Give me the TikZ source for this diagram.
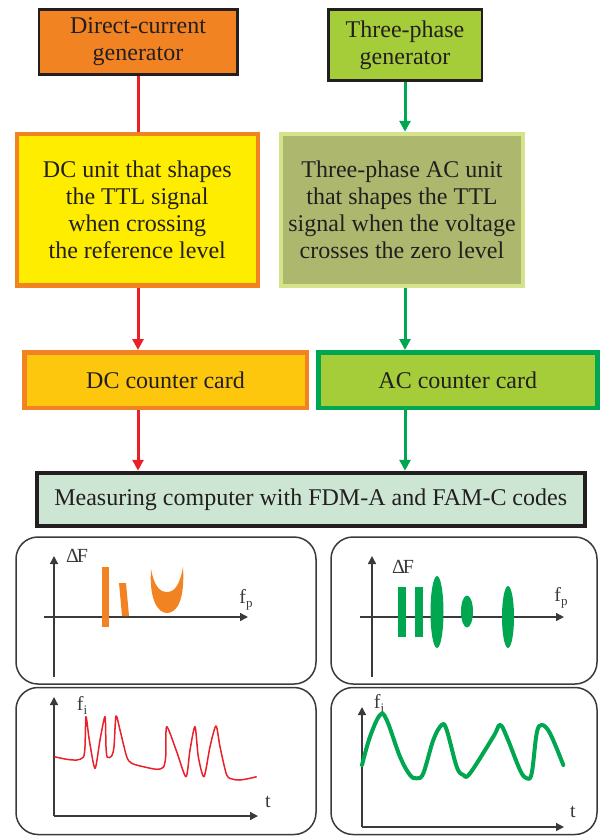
\documentclass[tikz,border=0pt]{standalone}
\usepackage{fontspec}
\setmainfont{Liberation Serif}
\usetikzlibrary{arrows.meta}

\definecolor{dcorange}{HTML}{F28322}
\definecolor{acgreen}{HTML}{A5CD39}
\definecolor{wirered}{HTML}{E8202A}
\definecolor{wiregreen}{HTML}{00A650}
\definecolor{dcyellow}{HTML}{FFED00}
\definecolor{oliveunit}{HTML}{ADB86E}
\definecolor{palegreen}{HTML}{D5E38A}
\definecolor{cardgold}{HTML}{FDC70E}
\definecolor{mint}{HTML}{CDE6D4}
\definecolor{ink}{HTML}{231F20}
\definecolor{framegray}{HTML}{3A3A3A}

\tikzset{
  box/.style={draw, rectangle, align=center, inner sep=0pt, text=ink,
              font=\fontsize{24}{27}\selectfont},
  genbox/.style={box, line width=2.5pt, draw=ink},
  heavybox/.style={box, line width=4.5pt},
  redwire/.style={draw=wirered, line width=3pt},
  greenwire/.style={draw=wiregreen, line width=3pt},
  tip/.style={-{Triangle[length=11pt,width=11pt]}},
  panel/.style={draw=framegray, line width=1.5pt, rounded corners=22pt,
                rectangle, inner sep=0pt, minimum width=300pt, minimum height=147pt},
  panelr/.style={panel, minimum width=266pt},
  axis/.style={draw=framegray, line width=1.5pt, -{Triangle[length=8pt,width=8pt]}},
  lab/.style={inner sep=0pt, text=framegray, font=\fontsize{20}{20}\selectfont},
}

\newcommand{\subidx}[1]{\raisebox{-4pt}{\fontsize{13}{13}\selectfont #1}}

\begin{document}
\begin{tikzpicture}[x=1pt, y=-1pt]
\useasboundingbox (0,0) rectangle (600,836);

% generators
\node[genbox, fill=dcorange, minimum width=198.5pt, minimum height=65pt]
  (dcgen) at (138,42) {Direct-current\\generator};
\node[genbox, fill=acgreen, minimum width=153.5pt, minimum height=71pt]
  (acgen) at (405,45) {Three-phase\\generator};

% signal shaping units
\node[heavybox, draw=dcorange, fill=dcyellow, minimum width=241pt, minimum height=151.5pt]
  (dcunit) at (137.25,209.7) {DC unit that shapes\\the TTL signal\\when crossing\\the reference level};
\node[heavybox, line width=4pt, draw=palegreen, fill=oliveunit, minimum width=242pt, minimum height=152.5pt]
  (acunit) at (402,210) {Three-phase AC unit\\that shapes the TTL\\signal when the voltage\\crosses the zero level};

% counter cards
\node[heavybox, draw=dcorange, fill=cardgold, minimum width=282.5pt, minimum height=55.5pt]
  (dccard) at (165.5,380) {DC counter card};
\node[heavybox, draw=wiregreen, fill=acgreen, minimum width=279pt, minimum height=55.5pt]
  (accard) at (457.75,380) {AC counter card};

% measuring computer
\node[heavybox, draw=ink, fill=mint, minimum width=548pt, minimum height=53pt]
  (meas) at (310.75,499.5) {Measuring computer with FDM-A and FAM-C codes};

% DC path
\draw[redwire] (dcgen.south) -- (dcgen.south |- dcunit.north);
\draw[redwire, tip] (dcgen.south |- dcunit.south) -- (dcgen.south |- dccard.north);
\draw[redwire, tip] (dcgen.south |- dccard.south) -- (dcgen.south |- meas.north);

% AC path
\draw[greenwire, tip] (acgen.south) -- (acgen.south |- acunit.north);
\draw[greenwire, tip] (acgen.south |- acunit.south) -- (acgen.south |- accard.north);
\draw[greenwire, tip] (acgen.south |- accard.south) -- (acgen.south |- meas.north);

% plot frames
\node[panel]  (p1) at (166,610.5) {};
\node[panelr] (p2) at (464,610.5) {};
\node[panel]  (p3) at (166,761) {};
\node[panelr] (p4) at (464,761) {};

% DC spectrum
\draw[axis] (54,677) -- (54,556);
\draw[axis] (44,617) -- (248,617);
\node[lab] (dcdf) at (77,556) {Δ\kern-2pt F};
\node[lab] (dcfp) at (246,600) {f\subidx{p}};
\fill[dcorange] (102,567) rectangle (109,627);
\fill[dcorange] (119,583) -- (126,583) -- (129,616) -- (122,616) -- cycle;
\fill[dcorange] (151,569) .. controls (149,600) and (158,613) .. (167,613)
  .. controls (177,613) and (185,600) .. (183,567)
  .. controls (180,584) and (175,592) .. (167,592)
  .. controls (159,592) and (154,585) .. (151,569) -- cycle;

% AC spectrum
\draw[axis] (372,677) -- (372,556);
\draw[axis] (360,617) -- (564,617);
\node[lab] (acdf) at (403,567) {Δ\kern-2pt F};
\node[lab] (acfp) at (561,598) {f\subidx{p}};
\fill[wiregreen] (398,587) rectangle (405.5,637);
\fill[wiregreen] (415,587) rectangle (422.5,637);
\fill[wiregreen] (437,612) ellipse [x radius=6.5pt, y radius=36pt];
\fill[wiregreen] (467,611.5) ellipse [x radius=6pt, y radius=16pt];
\fill[wiregreen] (508,617) ellipse [x radius=6pt, y radius=31pt];

% DC time record
\draw[axis] (54,816) -- (54,697);
\draw[axis] (54,816) -- (258,816);
\node[lab] (dcfi) at (82,705) {f\subidx{i}};
\node[lab] (dct) at (268,802) {t};
\draw[wirered, line width=1.5pt, line join=round]
  plot[smooth, tension=0.45] coordinates {
  (54.3,756.7)(66.7,759.3)(76.7,760)(83.3,757.3)(85,746.7)(86,716.7)(89.3,740)
  (95,768.3)(100,740)(105,716.7)(106,746.7)(107.3,757.3)(111.7,756)(114,746.7)
  (116,716)(120,730)(126.7,756.7)(131.7,763.3)(143.3,766.7)(156.7,769.3)
  (163.3,767.3)(165.7,756.7)(166.7,726.7)(176.7,751.7)(186,776.7)(190,750)
  (195,726.7)(198.3,756.7)(204,776.7)(210,746.7)(216,726)(220,746.7)
  (226.7,775)(233.3,779.3)(240,780)(250,778.3)(256.7,776.7)};

% AC time record
\draw[axis] (362,827) -- (362,707);
\draw[axis] (362,827) -- (564,827);
\node[lab] (acfi) at (379,703) {f\subidx{i}};
\node[lab] (act) at (573,812) {t};
\draw[wiregreen, line width=4pt, line cap=round, line join=round]
  plot[smooth, tension=0.6] coordinates {
  (362,765)(370,736.7)(380,715)(386.7,720)(400,756.7)(410,775)(416.7,778.3)
  (423.3,773.3)(433.3,740)(441.7,725)(446.7,730)(456.7,766.7)(463.3,775)
  (470,773.3)(493.3,736.7)(500,725)(506.7,736.7)(520,770)(526.7,778.3)
  (531.7,773.3)(536.7,733.3)(541.7,725)(550,733.3)(563.3,765)};
\end{tikzpicture}
\end{document}
